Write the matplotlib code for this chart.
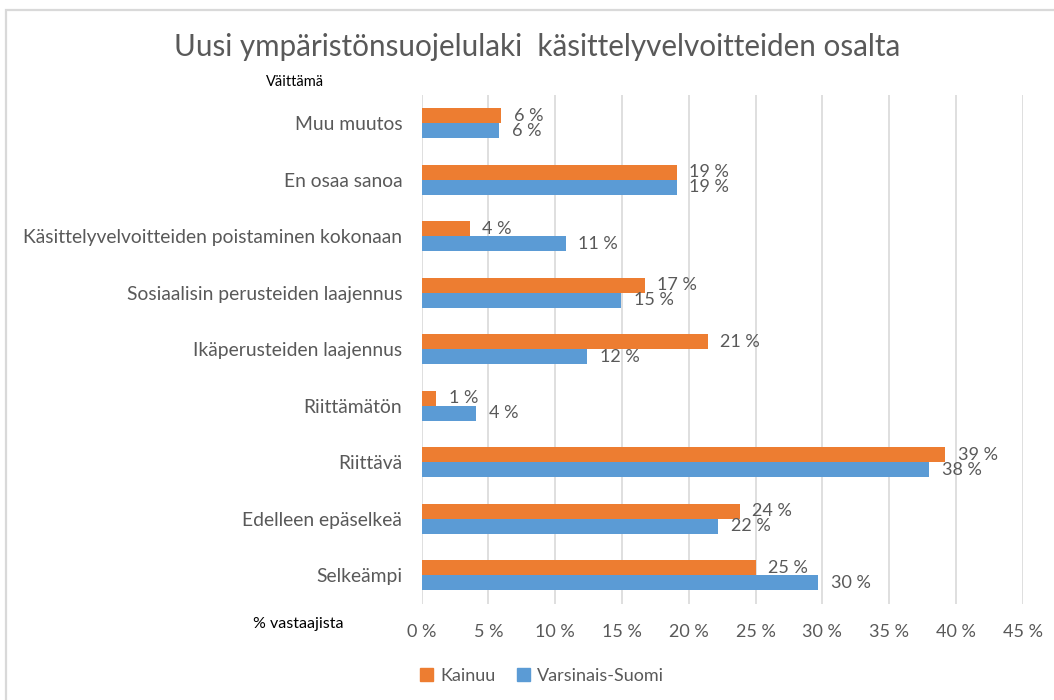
import matplotlib
matplotlib.use("Agg")
import matplotlib.pyplot as plt
from matplotlib.patches import Rectangle, Patch
import numpy as np

plt.rcParams['font.family'] = ['Lato', 'DejaVu Sans']

title = "Uusi ympäristönsuojelulaki  käsittelyvelvoitteiden osalta"
categories = ["Muu muutos", "En osaa sanoa", "Käsittelyvelvoitteiden poistaminen kokonaan",
              "Sosiaalisin perusteiden laajennus", "Ikäperusteiden laajennus", "Riittämätön",
              "Riittävä", "Edelleen epäselkeä", "Selkeämpi"]
kainuu = [5.95, 19.1, 3.6, 16.7, 21.4, 1.1, 39.2, 23.8, 25.0]
varsinais = [5.8, 19.1, 10.8, 14.95, 12.4, 4.1, 38.0, 22.2, 29.7]
series_names = ["Kainuu", "Varsinais-Suomi"]
x_ticks = [0, 5, 10, 15, 20, 25, 30, 35, 40, 45]

ORANGE = "#ED7D31"
BLUE = "#5B9BD5"
GRAY = "#595959"
GRID = "#D9D9D9"

W, H = 1054, 700
fig = plt.figure(figsize=(W / 100, H / 100), dpi=100)

# chart border
fig.patches.append(Rectangle((6 / W, -0.05), 1.2, 1 - 10 / H + 0.05, transform=fig.transFigure,
                             fill=False, edgecolor=GRID, linewidth=1.6))

ax = fig.add_axes([421.7 / W, (H - 603.5) / H, 601 / W, (603.5 - 95) / H])
y = np.arange(len(categories))
h = 0.265
ax.barh(y - h / 2, kainuu, height=h, color=ORANGE, label=series_names[0])
ax.barh(y + h / 2, varsinais, height=h, color=BLUE, label=series_names[1])

for yi, v in zip(y - h / 2, kainuu):
    ax.annotate(f"{round(v)} %", (v, yi), xytext=(9, 0), textcoords="offset points",
                ha="left", va="center", fontsize=13, color=GRAY)
for yi, v in zip(y + h / 2, varsinais):
    ax.annotate(f"{round(v)} %", (v, yi), xytext=(9, 0), textcoords="offset points",
                ha="left", va="center", fontsize=13, color=GRAY)

ax.set_xlim(0, 45)
ax.set_ylim(len(categories) - 0.5, -0.5)
ax.set_xticks(x_ticks)
ax.set_xticklabels([f"{t} %" for t in x_ticks])
ax.set_yticks(y)
ax.set_yticklabels(categories)
ax.tick_params(axis="both", length=0, labelcolor=GRAY)
ax.tick_params(axis="x", pad=15, labelsize=13)
ax.tick_params(axis="y", pad=14, labelsize=13.9)
for s in ax.spines.values():
    s.set_visible(False)
ax.grid(axis="x", color=GRID, linewidth=1.2)
ax.set_axisbelow(True)

fig.text(537 / W, 1 - 47 / H, title, ha="center", va="center", fontsize=21.3,
         color=GRAY, fontweight="normal")
fig.text(266 / W, 1 - 82 / H, "Väittämä", ha="left", va="center", fontsize=10.5, color="black")
fig.text(253 / W, 1 - 624 / H, "% vastaajista", ha="left", va="center", fontsize=11.5, color="black")

handles = [Patch(color=ORANGE), Patch(color=BLUE)]
fig.legend(handles, series_names, loc="center", bbox_to_anchor=(542 / W, 1 - 676 / H),
           ncol=2, frameon=False, fontsize=13, labelcolor=GRAY,
           handlelength=0.7, handleheight=0.7, handletextpad=0.4, columnspacing=1.2)

fig.savefig("out.png", dpi=100)
